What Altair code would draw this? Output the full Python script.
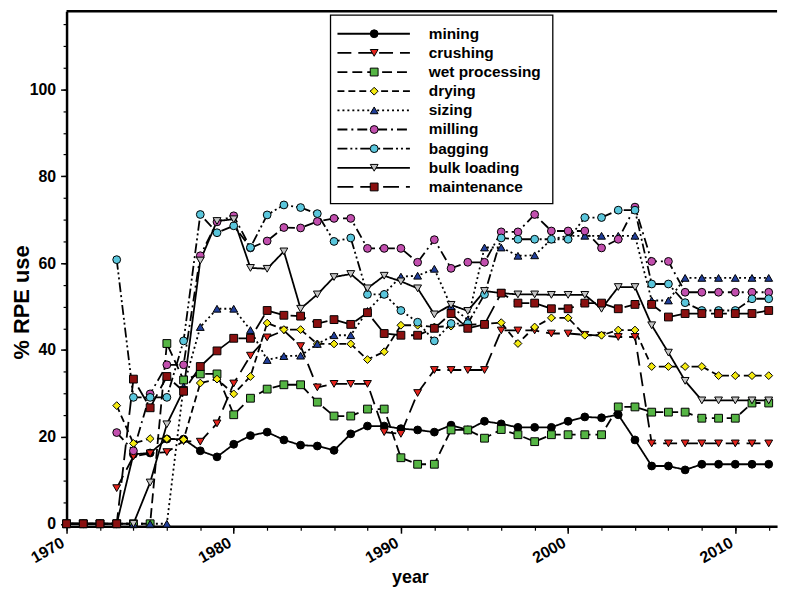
import altair as alt
import pandas as pd

years = list(range(1970, 2013))
series_names = ["mining", "crushing", "wet processing", "drying", "sizing",
                "milling", "bagging", "bulk loading", "maintenance"]

N = None
mining = [0, 0, 0, 0, 16, 16.3, 19.5, 19.5, 16.8, 15.4, 18.3, 20.3, 21.1, 19.3, 18.1,
          17.9, 16.9, 20.7, 22.5, 22.5, 21.9, 21.6, 21.1, 22.7, 21.6, 23.6, 23.0, 22.2,
          22.2, 22.2, 23.6, 24.6, 24.4, 25.1, 19.3, 13.3, 13.3, 12.4, 13.7, 13.7, 13.7,
          13.7, 13.7]
crushing = [N, N, N, 8.2, 15.5, 16.2, 16.5, 19.0, 18.9, 23.1, 32.3, 38.7, 42.9, 44.5, 40.9,
            31.4, 32.2, 32.2, 32.2, 21.1, 20.7, 30.1, 35.4, 35.4, 35.4, 35.4, 44.5, 44.5,
            44.5, 43.8, 43.8, 43.5, 43.3, 43.0, 43.0, 18.5, 18.5, 18.5, 18.5, 18.5, 18.5,
            18.5, 18.5]
wet_processing = [0, 0, 0, 0, 0, 0, 41.5, 33.1, 34.5, 34.5, 25.1, 28.9, 31.0, 32.0, 32.0,
                  28.0, 24.8, 24.8, 26.4, 26.4, 15.2, 13.7, 13.7, 21.6, 21.6, 19.7, 21.7,
                  20.5, 18.9, 20.5, 20.5, 20.5, 20.5, 26.9, 26.9, 25.7, 25.7, 25.7, 24.3,
                  24.3, 24.3, 27.8, 27.8]
drying = [N, N, N, 27.2, 18.5, 19.6, 19.6, 19.4, 32.4, 33.3, 29.9, 33.9, 46.2, 44.7, 44.7,
          41.4, 41.4, 41.4, 37.8, 39.6, 45.7, 45.7, 45.3, 45.5, 45.8, 46.0, 46.3, 41.5,
          45.3, 47.4, 47.4, 43.4, 43.4, 44.6, 44.6, 36.2, 36.2, 36.2, 36.2, 34.1, 34.1,
          34.1, 34.1]
sizing = [0, 0, 0, 0, 0, 0, 0, 31.6, 45.3, 49.5, 49.5, 44.6, 37.7, 38.6, 38.7,
          41.4, 43.4, 43.4, 49.0, 53.0, 56.9, 57.1, 58.7, 50.0, 47.0, 63.6, 63.6, 61.7,
          61.8, 65.5, 66.3, 66.3, 66.3, 66.3, 66.3, 51.4, 51.4, 56.6, 56.6, 56.6, 56.6,
          56.6, 56.6]
milling = [N, N, N, 21.0, 16.8, 29.9, 36.6, 36.6, 61.7, 69.5, 70.9, 63.5, 65.1, 68.2, 68.1,
           69.6, 70.3, 70.3, 63.4, 63.4, 63.4, 60.2, 65.4, 58.8, 60.2, 60.2, 67.2, 67.2,
           71.2, 67.4, 67.4, 67.4, 63.5, 65.5, 72.9, 60.4, 60.4, 53.3, 53.3, 53.3, 53.3,
           53.3, 53.3]
bagging = [N, N, N, 60.8, 29.1, 29.1, 29.1, 42.1, 71.2, 67.0, 68.6, 63.6, 71.1, 73.4, 72.8,
           71.4, 65.0, 65.8, 52.8, 52.8, 49.1, 46.4, 42.1, 46.1, 46.1, 52.8, 65.8, 65.5,
           65.5, 65.5, 65.5, 70.5, 70.5, 72.2, 72.2, 55.2, 55.2, 50.9, 49.1, 49.1, 49.1,
           51.8, 51.8]
bulk_loading = [0, 0, 0, 0, 0, 9.5, 22.9, 30.8, 60.6, 69.7, 70.1, 58.9, 58.7, 62.7, 49.5,
                52.8, 56.8, 57.5, 54.2, 57.1, 55.8, 54.2, 48.2, 50.4, 49.0, 53.6, 53.1, 52.8,
                52.8, 52.7, 52.7, 52.7, 49.5, 54.5, 54.5, 45.7, 39.4, 32.9, 28.4, 28.4, 28.4,
                28.4, 28.4]
maintenance = [0, 0, 0, 0, 33.3, 26.7, 33.9, 30.5, 36.2, 39.8, 42.7, 42.7, 49.1, 48.0, 47.8,
               46.1, 47.0, 45.9, 48.6, 43.8, 43.4, 43.4, 45.0, 48.4, 45.0, 45.9, 53.1, 50.8,
               50.8, 49.5, 49.5, 50.8, 50.8, 49.5, 50.5, 50.5, 47.6, 48.4, 48.4, 48.4, 48.4,
               48.4, 49.1]

x_major = [1970, 1980, 1990, 2000, 2010]
x_minor = list(range(1970, 2013, 2))
y_major = [0, 20, 40, 60, 80, 100]
y_minor = list(range(0, 116, 5))

all_series = [mining, crushing, wet_processing, drying, sizing, milling, bagging,
              bulk_loading, maintenance]
rows = []
for name, vals in zip(series_names, all_series):
    for yr, v in zip(years, vals):
        if v is not None:
            rows.append({"year": yr, "value": v, "series": name})
df = pd.DataFrame(rows)

W, H = 716, 519
FONT = "Liberation Sans"

dash_range = [[1, 0], [14, 7], [10, 5], [7, 4], [2, 3], [10, 4, 2, 4],
              [10, 3, 2, 3, 2, 3], [1, 0], [16, 7]]
shape_range = ["circle", "triangle-down", "square", "diamond", "triangle-up",
               "circle", "circle", "triangle-down", "square"]
fill_range = ["#000000", "#e3241d", "#55b544", "#f4ea10", "#213f9b",
              "#c24fae", "#5ac6dc", "#c4c4c4", "#8a1010"]

dash_scale = alt.Scale(domain=series_names, range=dash_range)
shape_scale = alt.Scale(domain=series_names, range=shape_range)
fill_scale = alt.Scale(domain=series_names, range=fill_range)

xs = alt.Scale(domain=[1970, 2012.5], nice=False, zero=False)
ys = alt.Scale(domain=[-0.57, 118], nice=False, zero=False)

x_major_axis = alt.Axis(values=x_major, format="d", labelAngle=-30, labelAlign="right",
                        labelBaseline="top", labelFont=FONT, labelFontWeight="bold",
                        labelFontSize=16, labelColor="black", tickSize=7, tickWidth=1.5,
                        tickColor="black", domainWidth=2.5, domainColor="black",
                        grid=False, title="year", titleFont=FONT, titleFontSize=18,
                        titleFontWeight="bold", titleColor="black", orient="bottom",
                        labelPadding=1, labelOffset=-8, titlePadding=3, titleX=346)
y_major_axis = alt.Axis(values=y_major, labelFont=FONT, labelFontWeight="bold",
                        labelFontSize=16, labelColor="black", tickSize=6, tickWidth=1.5,
                        tickColor="black", domainWidth=2.5, domainColor="black",
                        grid=False, title="% RPE use", titleFont=FONT, titleFontSize=22,
                        titleFontWeight="bold", titleColor="black", orient="left",
                        labelPadding=5, titleX=-33, titleY=293)
x_minor_axis = alt.Axis(values=x_minor, labels=False, tickSize=4, tickWidth=1.2,
                        tickColor="black", domain=False, grid=False, title=None,
                        orient="bottom")
y_minor_axis = alt.Axis(values=y_minor, labels=False, tickSize=3.5, tickWidth=1.2,
                        tickColor="black", domain=False, grid=False, title=None,
                        orient="left")

lines = alt.Chart(df).mark_line(color="black", strokeWidth=1.8).encode(
    x=alt.X("year:Q", scale=xs, axis=x_major_axis),
    y=alt.Y("value:Q", scale=ys, axis=y_major_axis),
    strokeDash=alt.StrokeDash("series:N", scale=dash_scale, legend=None),
    detail="series:N",
)

points = alt.Chart(df).mark_point(filled=True, stroke="black", strokeWidth=1,
                                  opacity=1, size=62).encode(
    x=alt.X("year:Q", scale=xs, axis=x_minor_axis),
    y=alt.Y("value:Q", scale=ys, axis=y_minor_axis),
    shape=alt.Shape("series:N", scale=shape_scale, legend=None),
    fill=alt.Fill("series:N", scale=fill_scale, legend=None),
)

# top frame line
frame = alt.Chart(pd.DataFrame({"a": [0]})).mark_rule(color="black", strokeWidth=2.5).encode(
    x=alt.value(0), x2=alt.value(W), y=alt.value(0)
)

# manual legend
leg_df = pd.DataFrame({"series": series_names, "idx": list(range(len(series_names)))})
ROW0, STEP = 22.7, 19.3
leg_df["ly"] = ROW0 + leg_df["idx"] * STEP
ly_scale = alt.Scale(domain=[0, H], range=[0, H], nice=False, zero=False)
ly = alt.Y("ly:Q", scale=ly_scale, axis=None)

box = alt.Chart(pd.DataFrame({"a": [0]})).mark_rect(
    fill="white", stroke="black", strokeWidth=1.3).encode(
    x=alt.value(266), x2=alt.value(490), y=alt.value(4), y2=alt.value(194))
leg_lines = alt.Chart(leg_df).mark_rule(color="black", strokeWidth=1.8).encode(
    x=alt.value(273), x2=alt.value(346), y=ly,
    strokeDash=alt.StrokeDash("series:N", scale=dash_scale, legend=None))
leg_pts = alt.Chart(leg_df).mark_point(filled=True, stroke="black", strokeWidth=1,
                                       opacity=1, size=62).encode(
    x=alt.value(310), y=ly,
    shape=alt.Shape("series:N", scale=shape_scale, legend=None),
    fill=alt.Fill("series:N", scale=fill_scale, legend=None))
leg_txt = alt.Chart(leg_df).mark_text(align="left", baseline="middle", font=FONT,
                                      fontSize=15.5, fontWeight="bold", color="black").encode(
    x=alt.value(365), y=ly, text="series:N")

chart = alt.layer(lines, points, frame, box, leg_lines, leg_pts, leg_txt).resolve_scale(
    x="independent", y="independent"
).resolve_axis(x="independent", y="independent").properties(
    width=W, height=H,
    autosize=alt.AutoSizeParams(type="none"),
    padding={"left": 59, "top": 1, "right": 10, "bottom": 60},
).configure_view(stroke=None)

chart.save("out.html", embed_options={"renderer": "svg", "actions": False})
